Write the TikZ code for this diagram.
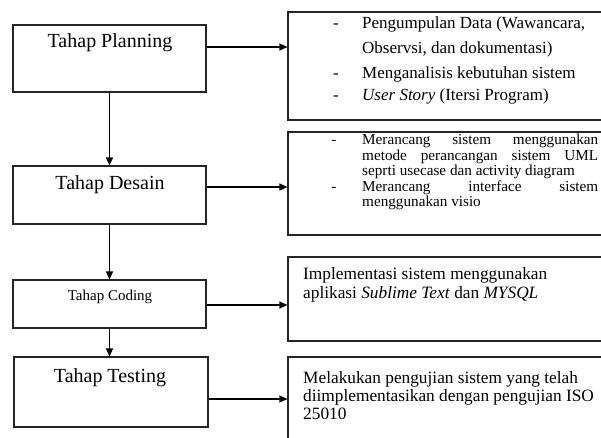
\documentclass[tikz,border=0pt]{standalone}
\usepackage{fontspec}
\setmainfont{Liberation Serif}
\usetikzlibrary{arrows.meta}
\begin{document}
\begin{tikzpicture}[x=1pt,y=-1pt,
  box/.style={draw=black!85, line width=1.1pt, inner sep=0pt},
  flow/.style={draw=black, line width=1.1pt, -{Triangle[length=8pt,width=7pt]}},
  biglbl/.style={inner sep=0pt, font=\fontsize{20}{24}\selectfont},
  smalllbl/.style={inner sep=0pt, font=\fontsize{15}{18}\selectfont},
  txtA/.style={anchor=base west, inner sep=0pt, font=\fontsize{17}{20}\selectfont},
  txtB/.style={anchor=base west, inner sep=0pt, font=\fontsize{15.2}{16}\selectfont},
  txtC/.style={anchor=base west, inner sep=0pt, font=\fontsize{17.3}{20}\selectfont},
  bul/.style={anchor=base, inner sep=0pt},
]
\useasboundingbox[fill=white] (0,0) rectangle (601,437);

% left boxes
\node[box, minimum width=193pt, minimum height=67pt] (plan) at (109.5,58.5) {};
\node[biglbl] (planT) at (110,43) {Tahap Planning};
\node[box, minimum width=193pt, minimum height=58pt] (des) at (109.5,195) {};
\node[biglbl] (desT) at (110,185) {Tahap Desain};
\node[box, minimum width=193pt, minimum height=48pt] (cod) at (109.5,304) {};
\node[smalllbl] (codT) at (110,297) {Tahap Coding};
\node[box, minimum width=194pt, minimum height=70pt] (tes) at (111,392) {};
\node[biglbl] (tesT) at (110,378) {Tahap Testing};

% right boxes
\node[box, minimum width=322pt, minimum height=108pt] (r1) at (449,66) {};
\node[box, minimum width=322pt, minimum height=103pt] (r2) at (449,183.5) {};
\node[box, minimum width=322pt, minimum height=84pt] (r3) at (449,299) {};
\node[box, minimum width=322pt, minimum height=96pt] (r4) at (449,405) {};

% vertical arrows
\draw[flow] (plan.south) -- (des.north);
\draw[flow] (des.south) -- (cod.north);
\draw[flow] (cod.south) -- (cod.south |- tes.north);

% horizontal arrows
\draw[flow] (plan.east |- 0,47) -- (r1.west |- 0,47);
\draw[flow] (des.east |- 0,187) -- (r2.west |- 0,187);
\draw[flow] (cod.east |- 0,305) -- (r3.west |- 0,305);
\draw[flow] (tes.east |- 0,399) -- (r4.west |- 0,399);

% box 1 text
\node[bul, font=\fontsize{17}{20}\selectfont] (b11) at (336,28) {-};
\node[txtA] (t11) at (362,28) {Pengumpulan Data (Wawancara,};
\node[txtA] (t12) at (362,53) {Observsi, dan dokumentasi)};
\node[bul, font=\fontsize{17}{20}\selectfont] (b12) at (336,78) {-};
\node[txtA] (t13) at (362,78) {Menganalisis kebutuhan sistem};
\node[bul, font=\fontsize{17}{20}\selectfont] (b13) at (336,100) {-};
\node[txtA] (t14) at (362,100) {\textit{User Story} (Itersi Program)};

% box 2 text
\node[bul, font=\fontsize{15.2}{16}\selectfont] (b21) at (334,144.5) {-};
\node[txtB] (t21) at (362,144.5) {\makebox[236pt][s]{Merancang\hfill sistem\hfill menggunakan}};
\node[txtB] (t22) at (362,160) {\makebox[236pt][s]{metode\hfill perancangan\hfill sistem\hfill UML}};
\node[txtB] (t23) at (362,175.5) {seprti usecase dan activity diagram};
\node[bul, font=\fontsize{15.2}{16}\selectfont] (b22) at (334,191) {-};
\node[txtB] (t24) at (362,191) {\makebox[236pt][s]{Merancang\hfill interface\hfill sistem}};
\node[txtB] (t25) at (362,206.5) {menggunakan visio};

% box 3 text
\node[txtC] (t31) at (303,279) {Implementasi sistem menggunakan};
\node[txtC] (t32) at (303,298) {aplikasi \textit{Sublime Text} dan \textit{MYSQL}};

% box 4 text
\node[txtC] (t41) at (303,383) {Melakukan pengujian sistem yang telah};
\node[txtC] (t42) at (303,401) {diimplementasikan dengan pengujian ISO};
\node[txtC] (t43) at (303,419) {25010};
\end{tikzpicture}
\end{document}
